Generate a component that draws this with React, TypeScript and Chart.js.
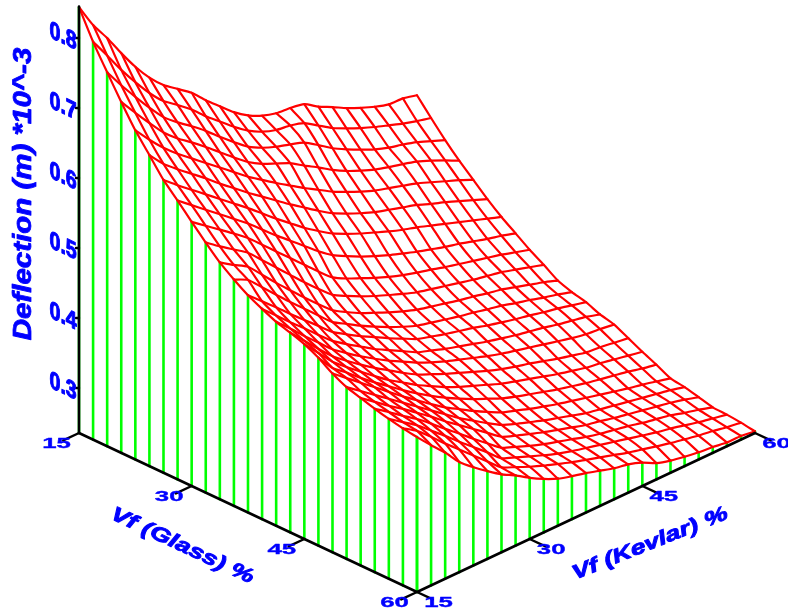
import React, { useEffect, useRef } from "react";
import { Chart, registerables } from "chart.js";

Chart.register(...registerables);

const glassValues = [15, 16.875, 18.75, 20.625, 22.5, 24.375, 26.25, 28.125, 30, 31.875, 33.75, 35.625, 37.5, 39.375, 41.25, 43.125, 45, 46.875, 48.75, 50.625, 52.5, 54.375, 56.25, 58.125, 60];
const kevlarValues = glassValues.slice();

// Deflection (×10^-3 m): one list per glass fraction, running over the kevlar fractions
const glass00 = [.844, .809, .781, .750, .721, .696, .676, .661, .646, .626, .608, .590, .576, .566, .560, .558, .554, .541, .531, .520, .511, .503, .497, .496, .491];
const glass01 = [.804, .775, .745, .718, .693, .672, .657, .641, .622, .605, .588, .573, .562, .555, .552, .546, .533, .520, .510, .501, .493, .486, .479, .473, .468];
const glass02 = [.770, .742, .716, .691, .668, .651, .636, .620, .602, .585, .569, .558, .550, .544, .537, .524, .510, .499, .489, .480, .473, .468, .462, .454, .446];
const glass03 = [.737, .712, .688, .665, .647, .632, .616, .599, .582, .566, .554, .545, .536, .523, .511, .498, .487, .478, .470, .464, .459, .453, .445, .436, .426];
const glass04 = [.706, .683, .662, .644, .628, .612, .596, .580, .564, .550, .536, .523, .510, .498, .486, .476, .467, .459, .453, .447, .441, .433, .425, .417, .408];
const glass05 = [.680, .658, .641, .625, .609, .592, .576, .560, .545, .530, .515, .501, .487, .474, .464, .455, .447, .441, .435, .429, .421, .414, .406, .398, .390];
const glass06 = [.654, .637, .621, .605, .589, .573, .557, .540, .523, .507, .491, .477, .464, .454, .445, .437, .429, .422, .416, .409, .402, .395, .388, .381, .374];
const glass07 = [.634, .618, .602, .586, .570, .554, .536, .518, .501, .484, .467, .452, .441, .431, .422, .414, .407, .400, .394, .388, .383, .377, .371, .366, .360];
const glass08 = [.613, .598, .583, .568, .552, .533, .514, .495, .476, .457, .439, .428, .419, .410, .402, .395, .389, .384, .378, .373, .368, .363, .358, .352, .346];
const glass09 = [.593, .578, .564, .550, .530, .510, .490, .470, .451, .433, .422, .412, .403, .395, .387, .380, .375, .370, .365, .360, .356, .352, .346, .340, .334];
const glass10 = [.574, .561, .549, .528, .507, .487, .467, .448, .430, .418, .407, .398, .389, .381, .374, .369, .364, .359, .355, .350, .346, .340, .334, .328, .321];
const glass11 = [.559, .549, .529, .509, .489, .470, .451, .432, .420, .408, .397, .387, .378, .370, .365, .360, .355, .351, .346, .342, .336, .331, .325, .320, .314];
const glass12 = [.546, .528, .510, .491, .473, .455, .437, .424, .412, .401, .390, .380, .370, .364, .358, .353, .348, .342, .337, .332, .328, .323, .319, .314, .309];
const glass13 = [.536, .517, .498, .480, .461, .443, .429, .416, .403, .392, .381, .370, .363, .356, .350, .344, .338, .333, .328, .324, .320, .315, .311, .307, .301];
const glass14 = [.527, .508, .488, .469, .450, .435, .421, .408, .396, .385, .374, .365, .357, .350, .343, .336, .330, .325, .320, .315, .310, .305, .301, .299, .296];
const glass15 = [.521, .500, .479, .459, .443, .428, .414, .401, .388, .376, .367, .358, .350, .342, .334, .327, .321, .316, .310, .304, .299, .294, .292, .289, .286];
const glass16 = [.514, .492, .470, .453, .437, .421, .406, .393, .380, .369, .358, .349, .341, .333, .325, .319, .313, .307, .301, .296, .291, .288, .284, .280, .276];
const glass17 = [.504, .480, .464, .447, .431, .416, .401, .387, .374, .362, .351, .341, .332, .323, .316, .310, .304, .298, .293, .288, .284, .280, .276, .271, .267];
const glass18 = [.491, .475, .459, .443, .427, .411, .396, .381, .367, .355, .343, .332, .322, .315, .308, .302, .296, .291, .286, .281, .276, .271, .267, .262, .257];
const glass19 = [.481, .466, .451, .436, .421, .406, .391, .376, .361, .348, .335, .323, .315, .308, .301, .295, .289, .283, .279, .275, .271, .267, .263, .259, .254];
const glass20 = [.475, .460, .445, .431, .416, .401, .385, .370, .355, .340, .325, .317, .310, .303, .297, .291, .285, .281, .276, .272, .268, .264, .260, .255, .249];
const glass21 = [.469, .455, .440, .426, .410, .393, .377, .360, .344, .328, .320, .312, .305, .299, .293, .287, .282, .278, .274, .269, .265, .261, .255, .250, .244];
const glass22 = [.464, .450, .436, .419, .402, .384, .367, .350, .332, .324, .316, .308, .301, .295, .290, .285, .280, .275, .270, .265, .261, .256, .251, .247, .243];
const glass23 = [.460, .447, .429, .410, .392, .374, .356, .338, .329, .320, .312, .305, .298, .292, .286, .280, .274, .269, .264, .259, .255, .251, .248, .244, .241];
const glass24 = [.457, .436, .416, .393, .376, .361, .347, .336, .323, .312, .303, .297, .292, .286, .280, .276, .269, .259, .253, .249, .246, .244, .241, .241, .238];

const deflection = [glass00, glass01, glass02, glass03, glass04, glass05, glass06, glass07, glass08, glass09, glass10, glass11, glass12, glass13, glass14, glass15, glass16, glass17, glass18, glass19, glass20, glass21, glass22, glass23, glass24];

const deflectionTicks = [0.3, 0.4, 0.5, 0.6, 0.7, 0.8];
const glassTicks = [15, 30, 45, 60];
const kevlarTicks = [15, 30, 45, 60];
const axisRange = { low: 15, high: 60, floor: 0.2357, top: 0.845 };

const titleZ = "Deflection (m) *10^-3";
const titleGlass = "Vf (Glass) %";
const titleKevlar = "Vf (Kevlar) %";

// Oblique view of (glass, kevlar, deflection) into the x/y scale units
const view = { ox: 79, oy: 433, dx: 338, dy: 159, zScale: 700 };
function project(g: number, k: number, z: number) {
  const a = (g - axisRange.low) / (axisRange.high - axisRange.low);
  const b = (k - axisRange.low) / (axisRange.high - axisRange.low);
  return {
    x: view.ox + view.dx * (a + b),
    y: view.oy + view.dy * (a - b) - view.zScale * (z - axisRange.floor),
  };
}

const RED = "#ff0000";
const GREEN = "#00ff00";
const BLACK = "#000000";
const BLUE = "#0000ff";
const FONT = '"Liberation Sans", Arial, sans-serif';

function line(data: { x: number; y: number }[], color: string, width: number, tension = 0) {
  return {
    type: "line" as const,
    data,
    borderColor: color,
    borderWidth: width,
    pointRadius: 0,
    tension,
    fill: false,
    borderJoinStyle: "round" as const,
    borderCapStyle: "round" as const,
    clip: false as const,
  };
}

function buildDatasets() {
  const out: any[] = [];
  const { low, high, floor, top } = axisRange;
  const tickG = 2.1;
  // black axes
  out.push(line([project(low, low, floor), project(low, low, top)], BLACK, 2.6));
  out.push(line([project(low, low, floor), project(high, low, floor), project(high, high, floor)], BLACK, 2.6));
  // ticks
  for (const t of deflectionTicks) {
    const p = project(low, low, t);
    out.push(line([p, { x: p.x - 3, y: p.y }], BLACK, 2.4));
  }
  for (const t of glassTicks) out.push(line([project(t, low, floor), project(t, low - tickG, floor)], BLACK, 2.4));
  for (const t of kevlarTicks) out.push(line([project(high, t, floor), project(high + tickG, t, floor)], BLACK, 2.4));
  // mesh
  glassValues.forEach((g, i) => {
    out.push(line(kevlarValues.map((k, j) => project(g, k, deflection[i][j])), RED, 2.2, 0.2));
  });
  kevlarValues.forEach((k, j) => {
    out.push(line(glassValues.map((g, i) => project(g, k, deflection[i][j])), RED, 2.2, 0.2));
  });
  // drop lines
  glassValues.forEach((g, i) => {
    out.push(line([project(g, low, floor), project(g, low, deflection[i][0])], GREEN, 2.6));
  });
  kevlarValues.forEach((k, j) => {
    out.push(line([project(high, k, floor), project(high, k, deflection[24][j])], GREEN, 2.6));
  });
  return out;
}

const labelsPlugin = {
  id: "labels3d",
  afterDatasetsDraw(chart: any) {
    const { ctx, scales } = chart;
    const px = (p: { x: number; y: number }) => ({ x: scales.x.getPixelForValue(p.x), y: scales.y.getPixelForValue(p.y) });
    const { low, high, floor } = axisRange;
    ctx.save();
    ctx.fillStyle = BLUE;
    ctx.strokeStyle = BLUE;
    ctx.lineJoin = "round";
    ctx.textBaseline = "alphabetic";
    const heavy = (text: string, weight: number) => {
      ctx.lineWidth = weight;
      ctx.strokeText(text, 0, 0);
      ctx.fillText(text, 0, 0);
    };

    // deflection ticks, sheared along the glass axis
    ctx.font = `bold 20px ${FONT}`;
    ctx.textAlign = "left";
    for (const t of deflectionTicks) {
      const p = px(project(low, low, t));
      ctx.save();
      ctx.transform(0.98, 0.47, 0, 1.22, p.x - 29.5, p.y - 1);
      heavy(t.toFixed(1), 0.9);
      ctx.restore();
    }

    // floor ticks, widened
    ctx.font = `bold 15px ${FONT}`;
    ctx.textAlign = "center";
    const wide = (text: string, x: number, y: number) => {
      ctx.save();
      ctx.transform(1.72, 0, 0, 1, x, y);
      heavy(text, 0.35);
      ctx.restore();
    };
    for (const t of glassTicks) {
      const p = px(project(t, low, floor));
      wide(String(t), p.x - 22.5, p.y + 14.5);
    }
    for (const t of kevlarTicks) {
      const p = px(project(high, t, floor));
      wide(String(t), p.x + 21.5, p.y + 14.5);
    }

    // axis titles
    ctx.textAlign = "center";
    ctx.save();
    ctx.font = `italic bold 25px ${FONT}`;
    ctx.transform(0, -1.18, 1, 0, 31, 194);
    heavy(titleZ, 0.8);
    ctx.restore();

    ctx.save();
    ctx.font = `italic bold 20px ${FONT}`;
    ctx.transform(1.21, 0.56, -0.42, 0.91, 180, 551);
    heavy(titleGlass, 0.9);
    ctx.restore();

    ctx.save();
    ctx.font = `italic bold 20px ${FONT}`;
    ctx.transform(1.25, -0.5, 0.36, 0.93, 652, 549);
    heavy(titleKevlar, 0.9);
    ctx.restore();

    ctx.restore();
  },
};

export default function App() {
  const ref = useRef<HTMLCanvasElement>(null);
  useEffect(() => {
    if (!ref.current) return;
    const chart = new Chart(ref.current, {
      type: "scatter",
      data: { datasets: buildDatasets() },
      options: {
        animation: false,
        responsive: false,
        devicePixelRatio: 1,
        layout: { padding: 0 },
        plugins: { legend: { display: false }, tooltip: { enabled: false }, title: { display: false } },
        events: [],
        scales: {
          x: { type: "linear", min: 0, max: 788, display: false },
          y: { type: "linear", min: 0, max: 613, reverse: true, display: false },
        },
      },
      plugins: [labelsPlugin],
    } as any);
    return () => chart.destroy();
  }, []);
  return (
    <div style={{ position: "fixed", left: 0, top: 0, width: 788, height: 613, background: "#fff" }}>
      <canvas ref={ref} width={788} height={613} style={{ display: "block" }} />
    </div>
  );
}
